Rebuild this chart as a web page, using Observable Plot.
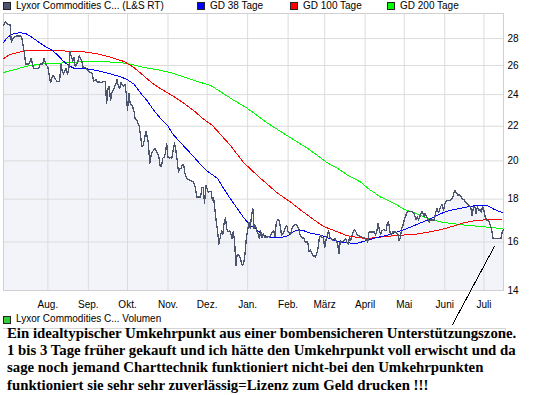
<!DOCTYPE html>
<html><head><meta charset="utf-8">
<script src="https://cdn.jsdelivr.net/npm/d3@7"></script>
<script src="https://cdn.jsdelivr.net/npm/@observablehq/plot@0.6"></script>
<style>
body{margin:0;background:#fff;font-family:"Liberation Sans",Arial,sans-serif;}
#wrap{position:relative;width:545px;height:395px;overflow:hidden;background:#fff}
.lg{position:absolute;font-size:10px;line-height:12px;color:#000;white-space:nowrap}
.sw{position:absolute;width:6px;height:6px;border:1px solid #222}
#chart{position:absolute;left:0;top:13px}
#panel{position:absolute;left:3px;top:328px;width:502px;height:6px;border-top:1px solid #d4d4d4;border-right:1px solid #d4d4d4}
#note{position:absolute;left:0;top:325px;width:545px;height:70px;background:transparent;
  font-family:"Liberation Serif","Times New Roman",serif;font-weight:bold;font-size:14.8px;line-height:17.2px;
  color:#000;white-space:nowrap;padding-left:7px;box-sizing:border-box}
#chart svg path{shape-rendering:crispEdges}
</style></head><body>
<div id="wrap">
  <div id="legend"></div>
  <div id="chart"></div>
  <div id="vol"></div>
  <div id="panel"></div>
  <div id="note"></div>
</div>
<script>
// ---------- data ----------
const seriesNames = ["Lyxor Commodities C... (L&S RT)", "GD 38 Tage", "GD 100 Tage", "GD 200 Tage"];
const seriesColors = ["#4b5570", "#0000ff", "#ff0000", "#00ff00"];
const volumeName = "Lyxor Commodities C... Volumen";
const volumeColor = "#33cc33";

const monthDates = ["2008-08-01","2008-09-01","2008-10-01","2008-11-01","2008-12-01","2009-01-01","2009-02-01","2009-03-01","2009-04-01","2009-05-01","2009-06-01","2009-07-01"];
const monthLabels = ["Aug.","Sep.","Okt.","Nov.","Dez.","Jan.","Feb.","März","April","Mai","Juni","Juli"];
const yTicks = [14, 16, 18, 20, 22, 24, 26, 28];
const xDomain = ["2008-06-28", "2009-07-16"];
const yDomain = [14, 30];

const priceDates = [
"2008-06-28","2008-06-29","2008-06-30","2008-07-01","2008-07-03","2008-07-04","2008-07-05","2008-07-06","2008-07-08","2008-07-11",
"2008-07-12","2008-07-13","2008-07-14","2008-07-15","2008-07-17","2008-07-18","2008-07-19","2008-07-20","2008-07-21","2008-07-25",
"2008-07-26","2008-07-28","2008-07-29","2008-07-30","2008-07-31",
"2008-08-01","2008-08-03","2008-08-04","2008-08-05","2008-08-07","2008-08-08","2008-08-10","2008-08-11","2008-08-12","2008-08-13",
"2008-08-15","2008-08-16","2008-08-17","2008-08-18","2008-08-20","2008-08-21","2008-08-22","2008-08-24","2008-08-25","2008-08-27",
"2008-08-28","2008-08-30","2008-08-31",
"2008-09-01","2008-09-03","2008-09-04","2008-09-05","2008-09-07","2008-09-08","2008-09-09","2008-09-10","2008-09-14","2008-09-15",
"2008-09-16","2008-09-17","2008-09-18","2008-09-19","2008-09-20","2008-09-22","2008-09-23","2008-09-24","2008-09-25","2008-09-26",
"2008-09-28","2008-09-29","2008-09-30",
"2008-10-01","2008-10-02","2008-10-03","2008-10-05","2008-10-06","2008-10-07","2008-10-08","2008-10-09","2008-10-10","2008-10-11",
"2008-10-12","2008-10-13","2008-10-14","2008-10-15","2008-10-16","2008-10-17","2008-10-18","2008-10-19","2008-10-20","2008-10-21",
"2008-10-22","2008-10-24","2008-10-25","2008-10-26","2008-10-27","2008-10-28","2008-10-29","2008-10-30","2008-10-31",
"2008-11-01","2008-11-02","2008-11-03","2008-11-04","2008-11-05","2008-11-06","2008-11-07","2008-11-08","2008-11-09","2008-11-10",
"2008-11-11","2008-11-12","2008-11-13","2008-11-14","2008-11-16","2008-11-17","2008-11-20","2008-11-21","2008-11-22","2008-11-23",
"2008-11-26","2008-11-27","2008-11-28","2008-11-29","2008-11-30",
"2008-12-01","2008-12-02","2008-12-04","2008-12-05","2008-12-06","2008-12-07","2008-12-08","2008-12-09","2008-12-10","2008-12-11",
"2008-12-12","2008-12-13","2008-12-14","2008-12-15","2008-12-16","2008-12-17","2008-12-18","2008-12-19","2008-12-20","2008-12-21",
"2008-12-22","2008-12-23","2008-12-24","2008-12-25","2008-12-26","2008-12-28","2008-12-29","2008-12-30","2008-12-31",
"2009-01-01","2009-01-02","2009-01-03","2009-01-04","2009-01-05","2009-01-06","2009-01-07","2009-01-08","2009-01-09","2009-01-10",
"2009-01-11","2009-01-12","2009-01-13","2009-01-14","2009-01-15","2009-01-16","2009-01-17","2009-01-18","2009-01-20","2009-01-21",
"2009-01-22","2009-01-23","2009-01-24","2009-01-25","2009-01-26","2009-01-27","2009-01-28","2009-01-29","2009-01-30","2009-01-31",
"2009-02-01","2009-02-03","2009-02-04","2009-02-05","2009-02-07","2009-02-08","2009-02-09","2009-02-10","2009-02-12","2009-02-13",
"2009-02-14","2009-02-16","2009-02-17","2009-02-18","2009-02-19","2009-02-20","2009-02-21","2009-02-22","2009-02-23","2009-02-24",
"2009-02-25","2009-02-26","2009-02-27","2009-02-28",
"2009-03-01","2009-03-02","2009-03-03","2009-03-04","2009-03-05","2009-03-06","2009-03-07","2009-03-08","2009-03-09","2009-03-11",
"2009-03-12","2009-03-13","2009-03-14","2009-03-16","2009-03-17","2009-03-18","2009-03-19","2009-03-20","2009-03-21","2009-03-22",
"2009-03-23","2009-03-24","2009-03-25","2009-03-26","2009-03-27","2009-03-28","2009-03-30","2009-03-31",
"2009-04-01","2009-04-03","2009-04-04","2009-04-05","2009-04-08","2009-04-09","2009-04-10","2009-04-11","2009-04-12","2009-04-13",
"2009-04-14","2009-04-15","2009-04-17","2009-04-18","2009-04-19","2009-04-20","2009-04-21","2009-04-22","2009-04-24","2009-04-26",
"2009-04-27","2009-04-28","2009-04-29","2009-04-30",
"2009-05-01","2009-05-03","2009-05-04","2009-05-06","2009-05-08","2009-05-09","2009-05-10","2009-05-11","2009-05-12","2009-05-14",
"2009-05-15","2009-05-16","2009-05-17","2009-05-18","2009-05-19","2009-05-20","2009-05-21","2009-05-22","2009-05-24","2009-05-25",
"2009-05-26","2009-05-27","2009-05-28","2009-05-29","2009-05-30","2009-05-31",
"2009-06-01","2009-06-02","2009-06-03","2009-06-04","2009-06-05","2009-06-07","2009-06-08","2009-06-09","2009-06-10","2009-06-11",
"2009-06-12","2009-06-13","2009-06-14","2009-06-16","2009-06-17","2009-06-18","2009-06-19","2009-06-20","2009-06-21","2009-06-22",
"2009-06-23","2009-06-24","2009-06-25","2009-06-26","2009-06-27","2009-06-28","2009-06-29","2009-06-30",
"2009-07-01","2009-07-02","2009-07-03","2009-07-04","2009-07-05","2009-07-06","2009-07-07","2009-07-08","2009-07-10","2009-07-12",
"2009-07-14","2009-07-15","2009-07-16"];
const priceValues = [
29.0,29.3,29.3,29.1,29.1,27.7,28.0,28.1,28.2,28.2,
28.1,27.5,26.9,26.1,26.1,26.2,26.5,26.2,25.8,25.8,
26.1,26.1,26.5,26.2,26.0,
25.9,24.8,25.1,25.3,25.0,24.9,24.9,26.1,25.6,25.4,
25.8,25.4,25.7,27.0,26.3,26.6,25.9,26.3,26.7,26.3,
25.85,25.85,25.7,
25.6,25.5,25.4,24.9,25.0,24.8,24.9,24.8,24.9,23.4,
24.4,24.55,23.6,24.1,24.3,24.7,25.0,24.55,24.4,24.8,
24.55,24.7,24.1,
23.0,24.1,23.45,23.2,22.9,22.4,22.4,22.2,22.0,21.4,
20.8,20.9,21.2,21.7,21.4,21.0,19.85,20.3,20.5,20.6,
20.7,20.4,20.2,19.7,19.7,20.15,20.2,20.4,21.0,
20.2,20.15,20.2,20.15,20.6,21.0,20.6,20.05,19.4,19.6,
19.6,19.8,19.8,19.3,19.0,19.0,18.9,18.8,18.6,18.1,
18.1,18.6,18.6,17.8,18.7,
18.5,18.35,18.4,17.95,18.05,17.45,16.9,16.5,15.9,16.2,
16.5,16.35,16.85,17.1,16.6,16.45,16.5,16.4,16.15,16.45,
16.07,15.0,15.45,15.45,15.35,15.0,15.1,15.5,16.15,
16.5,16.9,16.6,17.2,17.55,16.6,16.75,16.5,16.35,16.15,
16.5,16.2,16.35,16.2,16.25,16.2,16.25,16.2,16.45,16.5,
16.25,16.9,17.0,17.0,16.7,16.3,16.35,16.5,16.65,16.75,
16.45,16.35,16.6,16.75,16.8,16.75,16.6,16.35,16.15,16.2,
16.0,16.0,15.6,15.65,15.55,15.4,15.4,15.35,15.5,15.75,
16.2,16.3,16.2,16.2,
15.75,16.07,16.3,16.5,16.2,16.15,16.07,16.07,16.15,15.9,
15.5,16.07,16.0,16.07,16.15,16.0,15.9,16.2,16.07,16.3,
16.45,16.55,16.45,16.3,16.3,16.25,16.2,16.2,
16.15,16.0,16.45,16.45,16.45,16.3,16.5,16.85,16.5,16.35,
16.5,16.55,16.5,16.85,16.9,16.45,16.3,16.45,16.45,16.35,
16.07,16.2,16.6,16.75,
17.0,17.35,17.4,17.4,17.35,17.2,17.0,17.15,17.0,17.35,
17.4,17.15,17.3,17.15,17.05,16.9,17.0,17.0,17.0,17.35,
17.55,17.35,17.45,17.65,17.75,17.45,
17.75,17.9,17.95,17.95,17.95,18.05,18.3,18.45,18.3,18.2,
18.2,18.2,18.05,17.95,17.85,17.8,17.7,17.7,17.55,17.2,
17.65,17.65,17.3,17.65,17.45,17.5,17.35,17.65,
17.45,17.15,17.0,17.0,16.9,16.75,16.5,16.15,16.15,16.15,
16.15,16.45,16.55];

const ma38Dates = ["2008-06-28","2008-07-01","2008-07-06","2008-07-11","2008-07-15","2008-07-19","2008-07-24","2008-07-29","2008-08-03","2008-08-08","2008-08-13","2008-08-17","2008-08-21","2008-08-28","2008-09-04","2008-09-10","2008-09-18","2008-09-26","2008-10-01","2008-10-06","2008-10-11","2008-10-16","2008-10-21","2008-10-26","2008-11-01","2008-11-05","2008-11-11","2008-11-16","2008-11-21","2008-11-26","2008-12-01","2008-12-09","2008-12-14","2008-12-19","2008-12-24","2008-12-29","2009-01-03","2009-01-08","2009-01-13","2009-01-19","2009-01-26","2009-01-31","2009-02-05","2009-02-09","2009-02-13","2009-02-18","2009-02-26","2009-03-05","2009-03-13","2009-03-21","2009-03-26","2009-04-03","2009-04-10","2009-04-18","2009-04-26","2009-05-03","2009-05-13","2009-05-21","2009-05-29","2009-06-05","2009-06-13","2009-06-21","2009-06-28","2009-07-03","2009-07-09","2009-07-15"];
const ma38Values = [27.7,28.1,28.4,28.45,28.4,28.15,27.8,27.45,27.2,26.8,26.3,26.0,25.8,25.8,25.7,25.6,25.4,25.2,25.0,24.7,24.1,23.6,23.0,22.5,22.0,21.5,21.0,20.6,20.2,19.8,19.45,19.05,18.5,18.0,17.55,17.1,16.75,16.55,16.3,16.2,16.2,16.25,16.45,16.55,16.5,16.4,16.3,16.15,16.0,15.95,15.95,16.07,16.2,16.3,16.45,16.6,16.85,17.05,17.3,17.45,17.55,17.65,17.7,17.7,17.5,17.35];

const ma100Dates = ["2008-06-28","2008-07-03","2008-07-11","2008-07-15","2008-07-21","2008-08-03","2008-08-16","2008-08-28","2008-09-08","2008-09-18","2008-09-28","2008-10-06","2008-10-13","2008-10-21","2008-10-29","2008-11-05","2008-11-13","2008-11-21","2008-11-28","2008-12-05","2008-12-19","2008-12-29","2009-01-11","2009-01-24","2009-02-03","2009-02-11","2009-02-21","2009-02-28","2009-03-11","2009-03-18","2009-03-26","2009-04-03","2009-04-10","2009-04-18","2009-04-28","2009-05-08","2009-05-18","2009-05-29","2009-06-08","2009-06-16","2009-06-23","2009-07-01","2009-07-15"];
const ma100Values = [26.5,26.8,27.0,27.1,27.12,27.1,27.05,27.0,26.85,26.6,26.3,25.85,25.3,24.7,24.25,23.9,23.45,22.95,22.45,22.05,20.85,19.9,19.05,18.3,17.85,17.45,17.0,16.7,16.45,16.28,16.2,16.15,16.2,16.25,16.3,16.33,16.42,16.55,16.72,16.87,16.95,17.0,17.0];

const ma200Dates = ["2008-06-28","2008-07-06","2008-07-16","2008-07-26","2008-08-05","2008-08-16","2008-08-28","2008-09-10","2008-09-26","2008-10-03","2008-10-14","2008-10-24","2008-11-03","2008-11-13","2008-11-23","2008-12-04","2008-12-21","2009-01-01","2009-01-16","2009-01-31","2009-02-16","2009-03-03","2009-03-13","2009-03-18","2009-03-29","2009-04-03","2009-04-13","2009-04-23","2009-05-01","2009-05-08","2009-05-18","2009-05-29","2009-06-08","2009-06-18","2009-06-28","2009-07-06","2009-07-15"];
const ma200Values = [25.5,25.7,25.95,26.1,26.15,26.2,26.28,26.3,26.2,26.1,25.85,25.7,25.5,25.2,24.9,24.6,23.65,23.1,22.2,21.45,20.7,19.9,19.5,19.25,18.85,18.55,18.1,17.8,17.5,17.35,17.1,16.9,16.82,16.75,16.7,16.65,16.6];

// annotation pointer (from below the chart up to the July low)
const pointerDates = ["2009-06-07", "2009-07-09"];
const pointerValues = [12.75, 15.8];

const noteLines = [
  "Ein idealtypischer Umkehrpunkt aus einer bombensicheren Unterstützungszone.",
  "1 bis 3 Tage früher gekauft und ich hätte den Umkehrpunkt voll erwischt und da",
  "sage noch jemand Charttechnik funktioniert nicht-bei den Umkehrpunkten",
  "funktioniert sie sehr sehr zuverlässig=Lizenz zum Geld drucken !!!"
];

// ---------- build ----------
const parse = d3.utcParse("%Y-%m-%d");
const toSeries = (ds, vs) => ds.map((d, i) => ({date: parse(d), value: vs[i]}));
const price = toSeries(priceDates, priceValues);
const ma38 = toSeries(ma38Dates, ma38Values);
const ma100 = toSeries(ma100Dates, ma100Values);
const ma200 = toSeries(ma200Dates, ma200Values);
const pointer = toSeries(pointerDates, pointerValues);
const monthTicks = monthDates.map(parse);
const labelByTime = new Map(monthTicks.map((d, i) => [+d, monthLabels[i]]));

// legend (top)
const legendLeft = [3, 197, 290, 387];
const legend = document.getElementById("legend");
seriesNames.forEach((name, i) => {
  const sw = document.createElement("div");
  sw.className = "sw";
  sw.style.left = legendLeft[i] + "px"; sw.style.top = "2px";
  sw.style.background = seriesColors[i];
  legend.appendChild(sw);
  const t = document.createElement("div");
  t.className = "lg";
  t.style.left = (legendLeft[i] + 13) + "px"; t.style.top = "0px";
  t.textContent = name;
  legend.appendChild(t);
});

// volume legend (bottom)
const vol = document.getElementById("vol");
{
  const sw = document.createElement("div");
  sw.className = "sw"; sw.style.left = "3px"; sw.style.top = "316px"; sw.style.background = volumeColor;
  vol.appendChild(sw);
  const t = document.createElement("div");
  t.className = "lg"; t.style.left = "16px"; t.style.top = "313px"; t.textContent = volumeName;
  vol.appendChild(t);
}

const chart = Plot.plot({
  width: 545,
  height: 300,
  marginTop: 0,
  marginRight: 42,
  marginBottom: 23,
  marginLeft: 3,
  style: {background: "transparent", overflow: "visible", fontFamily: "Liberation Sans, Arial, sans-serif", fontSize: "10px", color: "#000"},
  x: {type: "utc", domain: xDomain.map(parse), ticks: monthTicks, tickFormat: d => labelByTime.get(+d), tickSize: 0, tickPadding: 10, label: null},
  y: {type: "log", domain: yDomain, ticks: yTicks, tickFormat: d => String(d), axis: "right", tickSize: 0, tickPadding: 4, label: null},
  marks: [
    Plot.areaY(price, {x: "date", y1: yDomain[0], y2: "value", fill: "#f3f4fa"}),
    Plot.gridX(monthTicks, {stroke: "#dcdcdc", strokeOpacity: 1}),
    Plot.gridY(yTicks, {stroke: "#dcdcdc", strokeOpacity: 1}),
    Plot.frame({stroke: "#d0d0d0"}),
    Plot.lineY(ma200, {x: "date", y: "value", stroke: seriesColors[3], strokeWidth: 1}),
    Plot.lineY(ma100, {x: "date", y: "value", stroke: seriesColors[2], strokeWidth: 1}),
    Plot.lineY(ma38, {x: "date", y: "value", stroke: seriesColors[1], strokeWidth: 1}),
    Plot.lineY(price, {x: "date", y: "value", stroke: seriesColors[0], strokeWidth: 1.3}),
    Plot.line(pointer, {x: "date", y: "value", stroke: "#000", strokeWidth: 1})
  ]
});
document.getElementById("chart").appendChild(chart);

// annotation text
const note = document.getElementById("note");
note.innerHTML = noteLines.map(l => `<div>${l}</div>`).join("");
</script>
</body></html>
